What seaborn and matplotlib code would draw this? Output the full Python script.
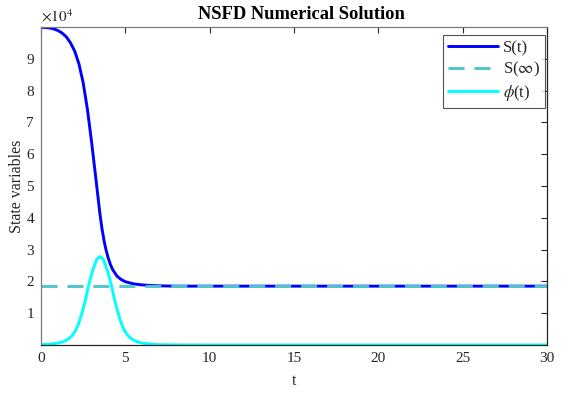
import matplotlib
matplotlib.use("Agg")
import matplotlib.pyplot as plt
import matplotlib.ticker as mticker
import seaborn as sns
import pandas as pd

# ---- data ----
t_S = [0, 0.25, 0.5, 0.75, 1.0, 1.25, 1.5, 1.75, 2.0, 2.25, 2.5, 2.75, 3.0,
       3.25, 3.5, 3.625, 3.75, 3.875, 4.0, 4.125, 4.25, 4.5, 4.75, 5.0, 5.5,
       6.0, 6.5, 7.0, 8.0, 10, 15, 20, 25, 30]
S_vals = [99900, 99850, 99700, 99400, 98900, 98100, 96900, 95000, 92400,
          88400, 82500, 74200, 63800, 52500, 41000, 36300, 32500, 29500,
          27100, 25200, 23700, 21700, 20600, 19900, 19200, 18900, 18700,
          18600, 18500, 18500, 18500, 18500, 18500, 18500]

t_phi = [0, 0.5, 1.0, 1.3, 1.5, 1.72, 1.9, 2.1, 2.3, 2.5, 2.65, 2.8, 2.95,
         3.1, 3.3, 3.5, 3.7, 3.9, 4.05, 4.2, 4.35, 4.5, 4.7, 4.9, 5.1, 5.28,
         5.5, 5.7, 6.0, 6.5, 7.0, 8.0, 10, 15, 20, 25, 30]
phi_vals = [100, 250, 600, 1000, 1500, 2300, 3300, 5000, 7800, 11400, 14500,
            18200, 21300, 24000, 26900, 27800, 26900, 24000, 21300, 18200,
            14500, 11400, 7800, 5000, 3300, 2300, 1500, 1000, 600, 250, 100,
            30, 0, 0, 0, 0, 0]

S_inf = 18500
t_range = [0, 30]

df_S = pd.DataFrame({"t": t_S, "v": S_vals})
df_phi = pd.DataFrame({"t": t_phi, "v": phi_vals})
df_inf = pd.DataFrame({"t": t_range, "v": [S_inf, S_inf]})

sns.set_theme(style="white")
plt.rcParams['font.family'] = ['Liberation Serif', 'DejaVu Serif']
plt.rcParams['mathtext.fontset'] = 'stix'

fig = plt.figure(figsize=(5.83, 4.15), dpi=100)
ax = fig.add_axes([0.0703, 0.1687, 0.8679, 0.7663])

sns.lineplot(data=df_S, x="t", y="v", ax=ax, color="#0000ff", lw=2.1,
             label="S(t)", sort=False)
sns.lineplot(data=df_inf, x="t", y="v", ax=ax, color="#4fc6ca", lw=2.1,
             label=r"S($\infty$)", sort=False)
ax.lines[-1].set_dashes([5.5, 3.4])
sns.lineplot(data=df_phi, x="t", y="v", ax=ax, color="#00ffff", lw=2.1,
             label=r"$\phi$(t)", sort=False)

ax.set_xlim(0, 30)
ax.set_ylim(0, 100000)
ax.set_xticks([0, 5, 10, 15, 20, 25, 30])
ax.set_yticks([10000 * k for k in range(1, 10)])
ax.yaxis.set_major_formatter(mticker.FuncFormatter(lambda v, p: f"{v/1e4:g}"))
ax.tick_params(direction="in", length=4, width=0.8, top=True, right=True,
               labelsize=11, colors="#262626", pad=5)
for s in ax.spines.values():
    s.set_visible(True)
    s.set_linewidth(0.9)
    s.set_color("#262626")
ax.spines['left'].set_color("#7a7a7a")
ax.spines['top'].set_color("#7a7a7a")

ax.set_title("NSFD Numerical Solution", fontsize=13.3, fontweight="bold",
             pad=6, color="black", x=0.514)
ax.set_xlabel("t", fontsize=11.5, color="#262626", labelpad=6)
ax.set_ylabel("State variables", fontsize=11.5, color="#262626", labelpad=1)
ax.text(0.0, 1.008, r"$\times 10^{4}$", transform=ax.transAxes,
        fontsize=11, color="#262626", va="bottom", ha="left")

leg = ax.legend(loc="upper right", bbox_to_anchor=(0.996, 0.975),
                borderaxespad=0, fontsize=12, frameon=True, fancybox=False,
                handlelength=3.0, labelspacing=0.22,
                borderpad=0.32, handletextpad=0.25)
leg.get_frame().set_edgecolor("#262626")
leg.get_frame().set_linewidth(0.8)

fig.savefig("out.png", dpi=100)
